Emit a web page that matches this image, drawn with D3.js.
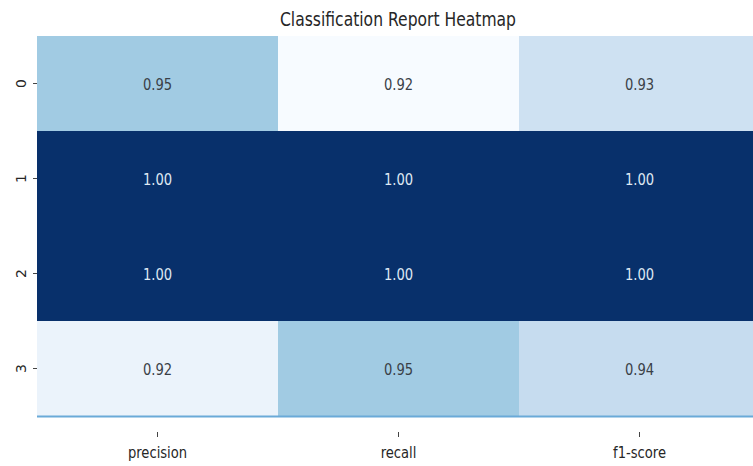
<!DOCTYPE html>
<html>
<head>
<meta charset="utf-8">
<script src="https://cdn.jsdelivr.net/npm/d3@7"></script>
<style>
  html, body { margin: 0; padding: 0; background: #ffffff; }
  svg { display: block; }
  text { font-family: "DejaVu Sans", sans-serif; }
</style>
</head>
<body>
<svg id="chart" width="753" height="466"></svg>
<script>
// Classification report: per-class metrics
const metrics = ["precision", "recall", "f1-score"];
const classes = ["0", "1", "2", "3"];
const precision = [0.947, 1.0, 1.0, 0.922];
const recall    = [0.917, 1.0, 1.0, 0.947];
const f1score   = [0.934, 1.0, 1.0, 0.937];
const title = "Classification Report Heatmap";

const series = { "precision": precision, "recall": recall, "f1-score": f1score };
const cells = [];
classes.forEach((c, i) => metrics.forEach(m => cells.push({ row: c, col: m, value: series[m][i] })));

const svg = d3.select("#chart");
const W = 753, H = 466;
const plot = { left: 37, right: 760, top: 36, bottom: 416 };
const squeeze = 0.82; // horizontal text compression

const x = d3.scaleBand().domain(metrics).range([plot.left, plot.right]);
const y = d3.scaleBand().domain(classes).range([plot.top, plot.bottom]);
const allValues = [...precision, ...recall, ...f1score];
const color = d3.scaleSequential(d3.interpolateBlues).domain(d3.extent(allValues));

// cells
svg.append("g").selectAll("rect").data(cells).join("rect")
  .attr("x", d => x(d.col))
  .attr("y", d => y(d.row))
  .attr("width", x.bandwidth() + 0.5)
  .attr("height", y.bandwidth() + 0.5)
  .attr("fill", d => color(d.value));

// annotations
svg.append("g").selectAll("text").data(cells).join("text")
  .attr("transform", d => `translate(${x(d.col) + x.bandwidth() / 2},${y(d.row) + y.bandwidth() / 2}) scale(${squeeze},1)`)
  .attr("text-anchor", "middle")
  .attr("dominant-baseline", "central")
  .attr("font-size", 16)
  .attr("fill", d => d3.hsl(color(d.value)).l > 0.5 ? "#3a3f47" : "#dfe8f3")
  .text(d => d3.format(".2f")(d.value));

// bottom edge line
svg.append("line")
  .attr("x1", plot.left).attr("x2", W)
  .attr("y1", plot.bottom + 0.5).attr("y2", plot.bottom + 0.5)
  .attr("stroke", "#6aaad8").attr("stroke-width", 2);

// x axis
const xAxis = svg.append("g")
  .attr("transform", `translate(0,${plot.bottom + 16})`)
  .call(d3.axisBottom(x).tickSize(5).tickSizeOuter(0));
xAxis.select(".domain").remove();
xAxis.selectAll("line").attr("stroke", "#444").attr("stroke-width", 1);
xAxis.selectAll("text")
  .attr("font-size", 16)
  .attr("fill", "#262626")
  .attr("y", 0)
  .attr("dy", 0)
  .attr("transform", `translate(0,26) scale(${squeeze},1)`);

// y axis
const yAxis = svg.append("g")
  .attr("transform", `translate(${plot.left},0)`)
  .call(d3.axisLeft(y).tickSize(4).tickSizeOuter(0));
yAxis.select(".domain").remove();
yAxis.selectAll("line").attr("stroke", "#444").attr("stroke-width", 1);
yAxis.selectAll("text")
  .attr("font-size", 14)
  .attr("fill", "#262626")
  .attr("x", 0).attr("dy", 0)
  .attr("text-anchor", "middle")
  .attr("dominant-baseline", "central")
  .attr("transform", "translate(-16,0) rotate(-90)");

// title
svg.append("text")
  .attr("transform", `translate(398,26) scale(${squeeze},1)`)
  .attr("text-anchor", "middle")
  .attr("font-size", 19)
  .attr("fill", "#262626")
  .text(title);
</script>
</body>
</html>
